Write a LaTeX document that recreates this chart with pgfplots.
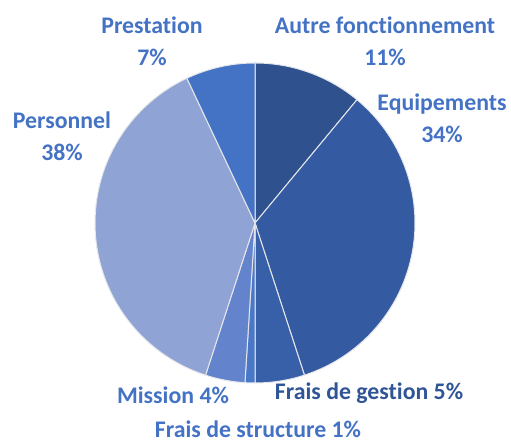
\documentclass[border=0pt]{standalone}
\usepackage{pgfplots}
\pgfplotsset{compat=1.18}
\usepackage{fontspec}
\setmainfont{Carlito}[Ligatures=NoCommon]
\definecolor{cAutre}{HTML}{2F528F}
\definecolor{cEquip}{HTML}{345AA1}
\definecolor{cGest}{HTML}{3760A8}
\definecolor{cStruct}{HTML}{4A78C8}
\definecolor{cMission}{HTML}{6384CC}
\definecolor{cPers}{HTML}{8FA3D4}
\definecolor{cPrest}{HTML}{4472C4}
\definecolor{lab}{HTML}{4472C4}
\definecolor{labdark}{HTML}{2F5597}
\definecolor{sep}{HTML}{E4E6EA}
\begin{document}%
\begin{tikzpicture}
% shares in percent: Autre 11, Equipements 34, Gestion 5, Structure 1, Mission 4, Personnel 38, Prestation 7
\pgfmathsetmacro\aA{90}
\pgfmathsetmacro\aB{\aA-11*3.6}
\pgfmathsetmacro\aC{\aB-34*3.6}
\pgfmathsetmacro\aD{\aC-5*3.6}
\pgfmathsetmacro\aE{\aD-1*3.6}
\pgfmathsetmacro\aF{\aE-4*3.6}
\pgfmathsetmacro\aG{\aF-38*3.6}
\pgfmathsetmacro\aH{\aG-7*3.6}
\begin{axis}[hide axis, scale only axis, width=511pt, height=443pt,
  xmin=0, xmax=511, ymin=0, ymax=443, clip=false]
\pgfplotsset{wedge/.style={draw=sep, line width=1pt, line join=round, samples=60, variable=\t}}
\addplot[wedge, fill=cAutre, domain=\aA:\aB] ({255+160*cos(\t)},{220+160*sin(\t)}) -- (axis cs:255,220) -- cycle;
\addplot[wedge, fill=cEquip, domain=\aB:\aC] ({255+160*cos(\t)},{220+160*sin(\t)}) -- (axis cs:255,220) -- cycle;
\addplot[wedge, fill=cGest, domain=\aC:\aD] ({255+160*cos(\t)},{220+160*sin(\t)}) -- (axis cs:255,220) -- cycle;
\addplot[wedge, fill=cStruct, domain=\aD:\aE] ({255+160*cos(\t)},{220+160*sin(\t)}) -- (axis cs:255,220) -- cycle;
\addplot[wedge, fill=cMission, domain=\aE:\aF] ({255+160*cos(\t)},{220+160*sin(\t)}) -- (axis cs:255,220) -- cycle;
\addplot[wedge, fill=cPers, domain=\aF:\aG] ({255+160*cos(\t)},{220+160*sin(\t)}) -- (axis cs:255,220) -- cycle;
\addplot[wedge, fill=cPrest, domain=\aG:\aH] ({255+160*cos(\t)},{220+160*sin(\t)}) -- (axis cs:255,220) -- cycle;
\begin{scope}[every node/.style={font=\fontsize{23.8}{32}\selectfont\bfseries, align=center, inner sep=0pt}]
\node[text=lab] at (axis cs:152,402) {Prestation\\7\%};
\node[text=lab] at (axis cs:385,402) {Autre fonctionnement\\11\%};
\node[text=lab] at (axis cs:442,325) {Equipements\\34\%};
\node[text=lab] at (axis cs:62,307) {Personnel\\38\%};
\node[text=lab] at (axis cs:173,48) {Mission 4\%};
\node[text=labdark] at (axis cs:369,50) {Frais de gestion 5\%};
\node[text=lab] at (axis cs:258,14) {Frais de structure 1\%};
\end{scope}
\end{axis}
\pgfresetboundingbox
\path[use as bounding box] (current axis.south west) rectangle (current axis.north east);
\end{tikzpicture}%
\end{document}
